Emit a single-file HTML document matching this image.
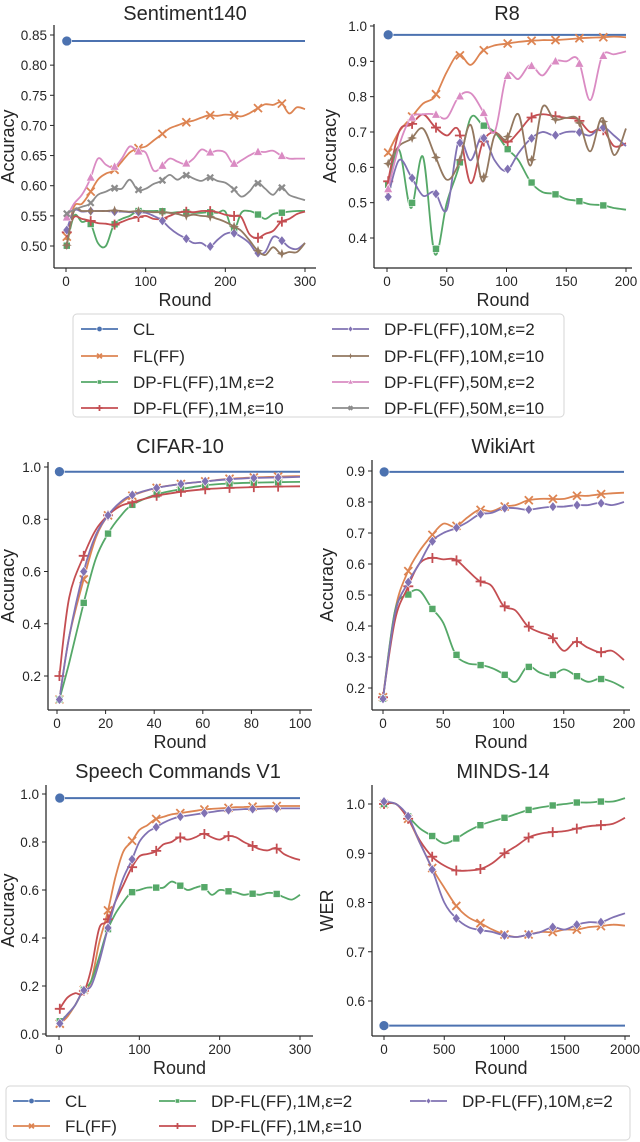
<!DOCTYPE html>
<html><head><meta charset="utf-8">
<style>
body{margin:0;background:#fff;}
svg{display:block;font-family:"Liberation Sans",Arial,sans-serif;}
</style></head>
<body>
<svg id="fig" width="640" height="1142" viewBox="0 0 640 1142" xmlns="http://www.w3.org/2000/svg"></svg>
<script>
// ---------- Sentiment140 data ----------
const s140Rounds = [0,10,20,30,40,50,60,70,80,90,100,110,120,130,140,150,160,170,180,190,200,210,220,230,240,250,260,270,280,290,300];
const s140CL = [0.84];
const s140FL = [0.51,0.565,0.57,0.588,0.61,0.62,0.625,0.64,0.655,0.662,0.665,0.675,0.685,0.695,0.70,0.705,0.708,0.713,0.717,0.716,0.718,0.717,0.715,0.72,0.728,0.735,0.734,0.738,0.72,0.73,0.727];
const s140G1 = [0.495,0.55,0.54,0.54,0.505,0.50,0.535,0.545,0.55,0.558,0.558,0.558,0.558,0.555,0.556,0.556,0.555,0.555,0.556,0.555,0.557,0.525,0.555,0.558,0.553,0.545,0.553,0.555,0.557,0.558,0.558];
const s140R1 = [0.52,0.548,0.545,0.542,0.538,0.537,0.535,0.54,0.545,0.548,0.55,0.545,0.545,0.55,0.555,0.557,0.556,0.558,0.558,0.556,0.552,0.55,0.548,0.52,0.513,0.52,0.525,0.54,0.545,0.553,0.557];
const s140P10 = [0.523,0.558,0.557,0.558,0.558,0.558,0.557,0.557,0.556,0.556,0.555,0.55,0.543,0.53,0.52,0.513,0.505,0.505,0.498,0.51,0.52,0.522,0.515,0.505,0.488,0.49,0.515,0.51,0.498,0.495,0.505];
const s140B10 = [0.495,0.558,0.558,0.558,0.558,0.558,0.559,0.558,0.557,0.558,0.557,0.556,0.556,0.555,0.553,0.55,0.552,0.55,0.549,0.545,0.54,0.533,0.525,0.51,0.493,0.485,0.498,0.487,0.49,0.49,0.505];
const s140K50 = [0.545,0.57,0.585,0.61,0.645,0.635,0.63,0.645,0.665,0.657,0.655,0.625,0.632,0.645,0.64,0.636,0.645,0.66,0.655,0.658,0.655,0.636,0.642,0.65,0.656,0.656,0.658,0.65,0.645,0.645,0.645];
const s140Y50 = [0.553,0.56,0.565,0.57,0.585,0.59,0.596,0.595,0.61,0.593,0.595,0.603,0.608,0.618,0.61,0.618,0.612,0.608,0.614,0.608,0.605,0.595,0.582,0.59,0.605,0.595,0.585,0.598,0.585,0.58,0.576];
const s140MarkRounds = [1,31,61,91,121,151,181,211,241,271];
const s140XTicks = [0,100,200,300];
const s140YTicks = [0.50,0.55,0.60,0.65,0.70,0.75,0.80,0.85];

// ---------- R8 data ----------
const r8Rounds = [0,10,20,30,40,50,60,70,80,90,100,110,120,130,140,150,160,170,180,190,200];
const r8CL = [0.975];
const r8FL = [0.635,0.70,0.74,0.78,0.80,0.87,0.92,0.89,0.93,0.945,0.95,0.955,0.958,0.96,0.96,0.962,0.965,0.967,0.968,0.97,0.968];
const r8G1 = [0.54,0.65,0.485,0.63,0.355,0.50,0.60,0.74,0.72,0.70,0.655,0.62,0.56,0.53,0.525,0.51,0.505,0.495,0.493,0.485,0.48];
const r8R1 = [0.545,0.70,0.72,0.75,0.715,0.69,0.705,0.555,0.67,0.70,0.67,0.70,0.74,0.75,0.745,0.74,0.735,0.70,0.71,0.66,0.668];
const r8P10 = [0.505,0.62,0.575,0.52,0.53,0.48,0.675,0.62,0.69,0.62,0.59,0.64,0.68,0.70,0.69,0.70,0.70,0.69,0.715,0.69,0.66];
const r8B10 = [0.605,0.66,0.68,0.71,0.635,0.565,0.61,0.72,0.56,0.69,0.68,0.75,0.605,0.77,0.735,0.74,0.735,0.645,0.74,0.635,0.71];
const r8K50 = [0.525,0.66,0.74,0.75,0.75,0.74,0.80,0.81,0.76,0.70,0.86,0.85,0.89,0.86,0.90,0.90,0.905,0.79,0.915,0.92,0.928];
const r8MarkRounds = [1,21,41,61,81,101,121,141,161,181];
const r8XTicks = [0,50,100,150,200];
const r8YTicks = [0.4,0.5,0.6,0.7,0.8,0.9,1.0];

// ---------- CIFAR-10 data ----------
const cifRounds = [1,5,11,16,21,26,31,41,51,61,71,81,91,100];
const cifCL = [0.982];
const cifFL = [0.11,0.35,0.57,0.73,0.815,0.86,0.89,0.92,0.935,0.945,0.955,0.96,0.963,0.965];
const cifG1 = [0.11,0.25,0.48,0.65,0.745,0.81,0.855,0.895,0.915,0.93,0.937,0.94,0.942,0.943];
const cifR1 = [0.20,0.50,0.66,0.76,0.815,0.85,0.865,0.89,0.905,0.915,0.92,0.923,0.925,0.926];
const cifP10 = [0.11,0.35,0.60,0.74,0.815,0.865,0.893,0.92,0.935,0.945,0.953,0.958,0.96,0.962];
const cifMarkRounds = [1,11,21,31,41,51,61,71,81,91];
const cifXTicks = [0,20,40,60,80,100];
const cifYTicks = [0.2,0.4,0.6,0.8,1.0];

// ---------- WikiArt data ----------
const wikRounds = [0,10,20,30,40,50,60,70,80,90,100,110,120,130,140,150,160,170,180,190,200];
const wikCL = [0.897];
const wikFL = [0.17,0.45,0.57,0.64,0.69,0.73,0.72,0.75,0.775,0.77,0.785,0.79,0.805,0.81,0.81,0.81,0.82,0.82,0.825,0.828,0.83];
const wikG1 = [0.165,0.45,0.50,0.515,0.46,0.41,0.31,0.28,0.275,0.265,0.245,0.22,0.27,0.25,0.24,0.26,0.24,0.22,0.23,0.22,0.20];
const wikR1 = [0.17,0.42,0.52,0.60,0.62,0.615,0.615,0.58,0.545,0.53,0.465,0.45,0.40,0.38,0.365,0.32,0.35,0.33,0.315,0.32,0.29];
const wikP10 = [0.165,0.44,0.535,0.60,0.67,0.70,0.715,0.735,0.76,0.765,0.78,0.78,0.775,0.78,0.785,0.785,0.79,0.79,0.797,0.79,0.80];
const wikMarkRounds = [0,21,41,61,81,101,121,141,161,181];
const wikXTicks = [0,50,100,150,200];
const wikYTicks = [0.2,0.3,0.4,0.5,0.6,0.7,0.8,0.9];

// ---------- Speech Commands V1 data ----------
const spRounds = [0,10,20,30,40,50,60,70,80,90,100,110,120,130,140,150,160,170,180,190,200,210,220,230,240,250,260,270,280,290,300];
const spCL = [0.983];
const spFL = [0.04,0.07,0.12,0.18,0.22,0.38,0.50,0.65,0.76,0.80,0.85,0.87,0.895,0.905,0.915,0.92,0.925,0.93,0.935,0.938,0.94,0.942,0.945,0.946,0.947,0.948,0.949,0.95,0.95,0.95,0.95];
const spG1 = [0.05,0.08,0.12,0.18,0.22,0.32,0.43,0.50,0.55,0.59,0.60,0.61,0.61,0.61,0.635,0.62,0.60,0.61,0.615,0.58,0.60,0.595,0.59,0.58,0.585,0.58,0.588,0.585,0.57,0.56,0.58];
const spR1 = [0.10,0.15,0.17,0.17,0.27,0.44,0.47,0.55,0.62,0.69,0.74,0.75,0.76,0.79,0.80,0.82,0.81,0.82,0.835,0.82,0.81,0.825,0.82,0.80,0.785,0.77,0.765,0.775,0.75,0.735,0.725];
const spP10 = [0.04,0.08,0.12,0.18,0.20,0.30,0.43,0.55,0.65,0.72,0.80,0.84,0.86,0.88,0.895,0.905,0.91,0.915,0.92,0.925,0.93,0.932,0.935,0.937,0.937,0.938,0.94,0.94,0.94,0.94,0.94];
const spMarkRounds = [1,31,61,91,121,151,181,211,241,271];
const spXTicks = [0,100,200,300];
const spYTicks = [0.0,0.2,0.4,0.6,0.8,1.0];

// ---------- MINDS-14 data ----------
const mnRounds = [0,100,200,300,400,500,600,700,800,900,1000,1100,1200,1300,1400,1500,1600,1700,1800,1900,2000];
const mnCL = [0.55];
const mnFL = [1.0,1.0,0.97,0.92,0.87,0.83,0.793,0.77,0.758,0.745,0.735,0.73,0.735,0.74,0.74,0.745,0.745,0.75,0.752,0.755,0.753];
const mnG1 = [1.0,1.0,0.975,0.95,0.935,0.92,0.93,0.945,0.957,0.965,0.972,0.98,0.988,0.993,0.997,1.0,1.003,1.003,1.005,1.005,1.012];
const mnR1 = [1.0,1.0,0.97,0.925,0.893,0.875,0.865,0.865,0.868,0.88,0.90,0.915,0.932,0.94,0.943,0.945,0.95,0.955,0.957,0.96,0.972];
const mnP10 = [1.005,1.0,0.975,0.92,0.867,0.80,0.768,0.75,0.744,0.74,0.733,0.73,0.735,0.74,0.75,0.745,0.755,0.76,0.76,0.77,0.778];
const mnMarkRounds = [0,200,400,600,800,1000,1200,1400,1600,1800];
const mnXTicks = [0,500,1000,1500,2000];
const mnYTicks = [0.6,0.7,0.8,0.9,1.0];

const COL = {CL:'#4c72b0',FL:'#dd8452',G1:'#55a868',R1:'#c44e52',P10:'#8172b3',B10:'#937860',K50:'#da8bc3',Y50:'#8c8c8c'};
const NS = 'http://www.w3.org/2000/svg';
const svg = document.getElementById('fig');

function mk(tag, attrs, parent){
  const e = document.createElementNS(NS, tag);
  for (const k in attrs) e.setAttribute(k, attrs[k]);
  (parent||svg).appendChild(e);
  return e;
}
function txt(s, x, y, size, anchor, parent, extra){
  const t = mk('text', Object.assign({x:x, y:y, 'font-size':size, 'text-anchor':anchor||'middle', fill:'#262626'}, extra||{}), parent);
  t.textContent = s;
  return t;
}
function interp(xs, ys, x){
  if (x <= xs[0]) return ys[0];
  for (let i=1;i<xs.length;i++){ if (x <= xs[i]) { const t=(x-xs[i-1])/(xs[i]-xs[i-1]); return ys[i-1]+t*(ys[i]-ys[i-1]); } }
  return ys[ys.length-1];
}
function smoothPath(pts){
  let d = 'M'+pts[0][0].toFixed(1)+','+pts[0][1].toFixed(1);
  for (let i=0;i<pts.length-1;i++){
    const p0=pts[Math.max(0,i-1)], p1=pts[i], p2=pts[i+1], p3=pts[Math.min(pts.length-1,i+2)];
    const c1=[p1[0]+(p2[0]-p0[0])/6, p1[1]+(p2[1]-p0[1])/6];
    const c2=[p2[0]-(p3[0]-p1[0])/6, p2[1]-(p3[1]-p1[1])/6];
    d += 'C'+c1[0].toFixed(1)+','+c1[1].toFixed(1)+' '+c2[0].toFixed(1)+','+c2[1].toFixed(1)+' '+p2[0].toFixed(1)+','+p2[1].toFixed(1);
  }
  return d;
}
function marker(kind, x, y, color, parent, s){
  s = s||1;
  let e;
  if (kind==='circle') e = mk('circle',{cx:x,cy:y,r:4.5*s,fill:color,stroke:'#fff','stroke-width':0.6},parent);
  else if (kind==='square') e = mk('rect',{x:x-3.5*s,y:y-3.5*s,width:7*s,height:7*s,fill:color,stroke:'#fff','stroke-width':0.6},parent);
  else if (kind==='diamond') e = mk('path',{d:`M${x},${y-5*s}L${x+4*s},${y}L${x},${y+5*s}L${x-4*s},${y}Z`,fill:color,stroke:'#fff','stroke-width':0.6},parent);
  else if (kind==='triangle') e = mk('path',{d:`M${x},${y-5*s}L${x+4.5*s},${y+3.5*s}L${x-4.5*s},${y+3.5*s}Z`,fill:color,stroke:'#fff','stroke-width':0.6},parent);
  else if (kind==='x') e = mk('path',{d:`M${x-4*s},${y-4*s}L${x+4*s},${y+4*s}M${x-4*s},${y+4*s}L${x+4*s},${y-4*s}`,stroke:color,'stroke-width':1.8,fill:'none'},parent);
  else if (kind==='plus') e = mk('path',{d:`M${x-5*s},${y}L${x+5*s},${y}M${x},${y-5*s}L${x},${y+5*s}`,stroke:color,'stroke-width':1.8,fill:'none'},parent);
  else if (kind==='star') e = mk('path',{d:`M${x},${y-5*s}L${x+1.3*s},${y-1.3*s}L${x+5*s},${y}L${x+1.3*s},${y+1.3*s}L${x},${y+5*s}L${x-1.3*s},${y+1.3*s}L${x-5*s},${y}L${x-1.3*s},${y-1.3*s}Z`,fill:color},parent);
  else if (kind==='xs') e = mk('path',{d:`M${x-3*s},${y-3*s}L${x+3*s},${y+3*s}M${x-3*s},${y+3*s}L${x+3*s},${y-3*s}`,stroke:color,'stroke-width':2.2,fill:'none'},parent);
  
  
  return e;
}

function drawChart(cfg){
  const g = mk('g',{});
  
  
  const sx = v => cfg.x0px + (v - cfg.xd0)/(cfg.xd1 - cfg.xd0)*(cfg.x1px - cfg.x0px);
  const sy = v => cfg.y0px + (v - cfg.yd0)/(cfg.yd1 - cfg.yd0)*(cfg.y1px - cfg.y0px);
  const tt = txt(cfg.title, cfg.titleX, cfg.titleY, 20, 'middle', g);
  
  
  cfg.series.forEach(s => {
    const sg = mk('g',{}, g);
    
    
    if (s.ys.length === 1){
      const y = sy(s.ys[0]);
      const ln = mk('line',{x1:sx(cfg.clStart),y1:y,x2:sx(cfg.xd1),y2:y,stroke:s.color,'stroke-width':2},sg);
      
      
      marker('circle', sx(cfg.clStart), y, s.color, sg, 1.1);
    } else {
      const pts = s.xs.map((x,i)=>[sx(x), sy(s.ys[i])]);
      const p = mk('path',{d:smoothPath(pts),fill:'none',stroke:s.color,'stroke-width':1.8,'stroke-linejoin':'round'},sg);
      
      
      cfg.markRounds.forEach(r => { marker(s.marker, sx(r), sy(interp(s.xs, s.ys, r)), s.color, sg); });
    }
  });
  const ax = mk('g',{}, g);
  
  
  mk('line',{x1:cfg.left,y1:cfg.top,x2:cfg.left,y2:cfg.bottom,stroke:'#262626','stroke-width':1.25},ax);
  mk('line',{x1:cfg.left,y1:cfg.bottom,x2:cfg.right,y2:cfg.bottom,stroke:'#262626','stroke-width':1.25},ax);
  cfg.xTicks.forEach(v => {
    const x = sx(v);
    mk('line',{x1:x,y1:cfg.bottom,x2:x,y2:cfg.bottom+4,stroke:'#262626','stroke-width':1},ax);
    const t = txt(String(v), x, cfg.bottom+18, 13.5, 'middle', ax);
    
    
  });
  cfg.yTicks.forEach(v => {
    const y = sy(v);
    mk('line',{x1:cfg.left-4,y1:y,x2:cfg.left,y2:y,stroke:'#262626','stroke-width':1},ax);
    const t = txt(v.toFixed(cfg.yDec), cfg.left-7, y+5, 13.5, 'end', ax);
    
    
  });
  const xl = txt('Round', (cfg.left+cfg.right)/2, cfg.bottom+38, 18, 'middle', ax);
  
  
  const yc = (cfg.top+cfg.bottom)/2;
  const yl = txt(cfg.yLabel, cfg.yLabelX, yc, 18, 'middle', ax, {transform:`rotate(-90 ${cfg.yLabelX} ${yc})`});
  
  
}

function S(key, marker, xs, ys){ return {key:key, color:COL[key], marker:marker, xs:xs, ys:ys}; }

drawChart({name:'sentiment140-chart', title:'Sentiment140', titleX:185, titleY:20,
  left:54, right:316, top:25, bottom:268, x0px:66, x1px:305, xd0:0, xd1:300,
  y0px:246, y1px:35, yd0:0.50, yd1:0.85, yDec:2, xTicks:s140XTicks, yTicks:s140YTicks,
  yLabel:'Accuracy', yLabelX:14, clStart:1, markRounds:s140MarkRounds,
  series:[S('CL','circle',s140Rounds,s140CL),S('FL','x',s140Rounds,s140FL),S('G1','square',s140Rounds,s140G1),
    S('R1','plus',s140Rounds,s140R1),S('P10','diamond',s140Rounds,s140P10),S('B10','star',s140Rounds,s140B10),
    S('K50','triangle',s140Rounds,s140K50),S('Y50','xs',s140Rounds,s140Y50)]});

drawChart({name:'r8-chart', title:'R8', titleX:507, titleY:20,
  left:374, right:632, top:24, bottom:268, x0px:387, x1px:626, xd0:0, xd1:200,
  y0px:238, y1px:26, yd0:0.4, yd1:1.0, yDec:1, xTicks:r8XTicks, yTicks:r8YTicks,
  yLabel:'Accuracy', yLabelX:336, clStart:1, markRounds:r8MarkRounds,
  series:[S('CL','circle',r8Rounds,r8CL),S('FL','x',r8Rounds,r8FL),S('G1','square',r8Rounds,r8G1),
    S('R1','plus',r8Rounds,r8R1),S('P10','diamond',r8Rounds,r8P10),S('B10','star',r8Rounds,r8B10),
    S('K50','triangle',r8Rounds,r8K50)]});

drawChart({name:'cifar10-chart', title:'CIFAR-10', titleX:180, titleY:453,
  left:48, right:312, top:462, bottom:710, x0px:57, x1px:300, xd0:0, xd1:100,
  y0px:676, y1px:467, yd0:0.2, yd1:1.0, yDec:1, xTicks:cifXTicks, yTicks:cifYTicks,
  yLabel:'Accuracy', yLabelX:14, clStart:1, markRounds:cifMarkRounds,
  series:[S('CL','circle',cifRounds,cifCL),S('FL','x',cifRounds,cifFL),S('G1','square',cifRounds,cifG1),
    S('R1','plus',cifRounds,cifR1),S('P10','diamond',cifRounds,cifP10)]});

drawChart({name:'wikiart-chart', title:'WikiArt', titleX:503, titleY:453,
  left:372, right:630, top:460, bottom:710, x0px:383, x1px:624, xd0:0, xd1:200,
  y0px:688, y1px:471, yd0:0.2, yd1:0.9, yDec:1, xTicks:wikXTicks, yTicks:wikYTicks,
  yLabel:'Accuracy', yLabelX:333, clStart:1, markRounds:wikMarkRounds,
  series:[S('CL','circle',wikRounds,wikCL),S('FL','x',wikRounds,wikFL),S('G1','square',wikRounds,wikG1),
    S('R1','plus',wikRounds,wikR1),S('P10','diamond',wikRounds,wikP10)]});

drawChart({name:'speech-commands-chart', title:'Speech Commands V1', titleX:178, titleY:778,
  left:46, right:313, top:785, bottom:1036, x0px:59, x1px:300, xd0:0, xd1:300,
  y0px:1034, y1px:794, yd0:0.0, yd1:1.0, yDec:1, xTicks:spXTicks, yTicks:spYTicks,
  yLabel:'Accuracy', yLabelX:14, clStart:1, markRounds:spMarkRounds,
  series:[S('CL','circle',spRounds,spCL),S('FL','x',spRounds,spFL),S('G1','square',spRounds,spG1),
    S('R1','plus',spRounds,spR1),S('P10','diamond',spRounds,spP10)]});

drawChart({name:'minds14-chart', title:'MINDS-14', titleX:503, titleY:778,
  left:372, right:630, top:785, bottom:1036, x0px:384, x1px:625, xd0:0, xd1:2000,
  y0px:1001, y1px:804, yd0:0.6, yd1:1.0, yDec:1, xTicks:mnXTicks, yTicks:mnYTicks,
  yLabel:'WER', yLabelX:333, clStart:0, markRounds:mnMarkRounds,
  series:[S('CL','circle',mnRounds,mnCL),S('FL','x',mnRounds,mnFL),S('G1','square',mnRounds,mnG1),
    S('R1','plus',mnRounds,mnR1),S('P10','diamond',mnRounds,mnP10)]});

function legend(name, box, entries){
  const g = mk('g',{});
  
  
  mk('rect',{x:box[0],y:box[1],width:box[2],height:box[3],rx:4,fill:'#fff',stroke:'#d6d6d6','stroke-width':1},g);
  entries.forEach(e => {
    const eg = mk('g',{}, g);
    
    
    mk('line',{x1:e[0],y1:e[1],x2:e[0]+37,y2:e[1],stroke:COL[e[3]],'stroke-width':1.8},eg);
    marker(e[4], e[0]+18.5, e[1], COL[e[3]], eg, 0.6);
    txt(e[2], e[0]+52, e[1]+6, 17, 'start', eg);
  });
}
legend('legend-top',[73,314,491,103],[
  [81,329,'CL','CL','circle'],[81,356,'FL(FF)','FL','x'],[81,382,'DP-FL(FF),1M,ε=2','G1','square'],[81,408,'DP-FL(FF),1M,ε=10','R1','plus'],
  [332,329,'DP-FL(FF),10M,ε=2','P10','diamond'],[332,356,'DP-FL(FF),10M,ε=10','B10','star'],[332,382,'DP-FL(FF),50M,ε=2','K50','triangle'],[332,408,'DP-FL(FF),50M,ε=10','Y50','xs']]);
legend('legend-bottom',[6,1086,624,54],[
  [13,1101,'CL','CL','circle'],[13,1126,'FL(FF)','FL','x'],
  [159,1101,'DP-FL(FF),1M,ε=2','G1','square'],[159,1126,'DP-FL(FF),1M,ε=10','R1','plus'],
  [410,1101,'DP-FL(FF),10M,ε=2','P10','diamond']]);
</script>
</body></html>
